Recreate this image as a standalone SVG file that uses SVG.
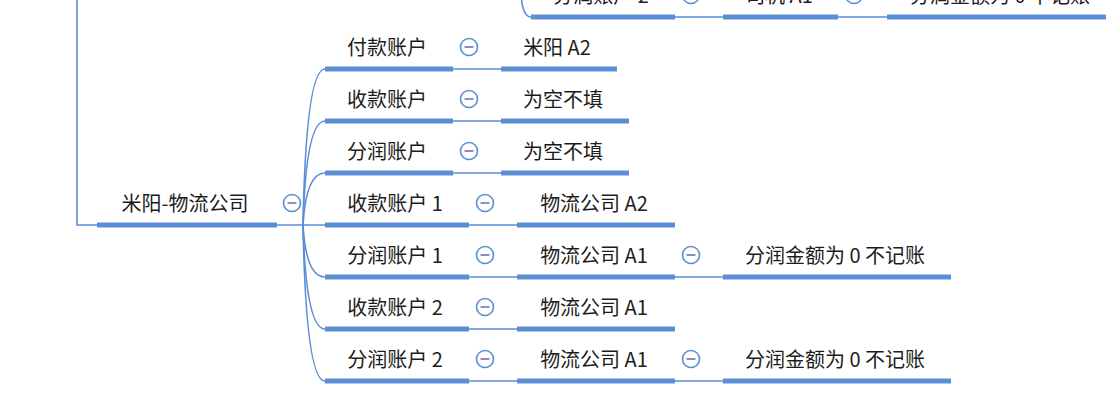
<svg xmlns="http://www.w3.org/2000/svg" width="1106" height="414" viewBox="0 0 1106 414">
<style>
.bar{stroke:#5a8fd6;stroke-width:5;fill:none}
.ln{stroke:#5a8fd6;stroke-width:1.6;fill:none}
.t{font-family:"Noto Sans CJK SC","Noto Sans",sans-serif;font-size:20px;fill:#1c1c1c;text-anchor:middle}
.cb circle{fill:#fff;stroke:#5a8fd6;stroke-width:1.6}
.cb line{stroke:#8e90c4;stroke-width:2}
</style>
<defs>
<g id="col" class="cb"><circle r="8.5"/><line x1="-4.5" y1="0" x2="4.5" y2="0"/></g>
</defs>
<rect width="1106" height="414" fill="#fff"/>
<g id="connectors">
<path class="ln" d="M77,-2 V225 H97"/>
<path class="ln" d="M277,225 H325"/>
<path class="ln" d="M303,225 Q306,69 325,69"/>
<path class="ln" d="M303,225 Q306,121 325,121"/>
<path class="ln" d="M303,225 Q306,173 325,173"/>
<path class="ln" d="M303,225 Q306,277 325,277"/>
<path class="ln" d="M303,225 Q306,329 325,329"/>
<path class="ln" d="M303,225 Q306,381 325,381"/>
<path class="ln" d="M453,69 H501 M453,121 H501 M453,173 H501"/>
<path class="ln" d="M469,225 H517 M469,277 H517 M469,329 H517 M469,381 H517"/>
<path class="ln" d="M675,277 H723 M675,381 H723"/>
<path class="ln" d="M519,-30 C521,5 523,17 531,17"/>
<path class="ln" d="M675,17 H723 M838,17 H887"/>
</g>
<g id="top-row">
<line class="bar" x1="531" y1="17" x2="675" y2="17"/><text class="t" x="601" y="3">分润账户 2</text>
<use href="#col" x="691" y="-5"/>
<line class="bar" x1="723" y1="17" x2="838" y2="17"/><text class="t" x="779" y="3">司机 A1</text>
<use href="#col" x="854" y="-5"/>
<line class="bar" x1="887" y1="17" x2="1115" y2="17"/><text class="t" x="1000" y="3">分润金额为 0 不记账</text>
</g>
<g id="root">
<line class="bar" x1="97" y1="225" x2="277" y2="225"/><text class="t" x="185" y="211">米阳-物流公司</text>
<use href="#col" x="292" y="203"/>
</g>
<g id="c1">
<line class="bar" x1="325" y1="69" x2="453" y2="69"/><text class="t" x="387" y="55">付款账户</text>
<use href="#col" x="469" y="47"/>
</g>
<g id="c1a"><line class="bar" x1="501" y1="69" x2="617" y2="69"/><text class="t" x="557" y="55">米阳 A2</text></g>
<g id="c2">
<line class="bar" x1="325" y1="121" x2="453" y2="121"/><text class="t" x="387" y="107">收款账户</text>
<use href="#col" x="469" y="99"/>
</g>
<g id="c2a"><line class="bar" x1="501" y1="121" x2="629" y2="121"/><text class="t" x="563" y="107">为空不填</text></g>
<g id="c3">
<line class="bar" x1="325" y1="173" x2="453" y2="173"/><text class="t" x="387" y="159">分润账户</text>
<use href="#col" x="469" y="151"/>
</g>
<g id="c3a"><line class="bar" x1="501" y1="173" x2="629" y2="173"/><text class="t" x="563" y="159">为空不填</text></g>
<g id="c4">
<line class="bar" x1="325" y1="225" x2="469" y2="225"/><text class="t" x="395" y="211">收款账户 1</text>
<use href="#col" x="485" y="203"/>
</g>
<g id="c4a"><line class="bar" x1="517" y1="225" x2="675" y2="225"/><text class="t" x="594" y="211">物流公司 A2</text></g>
<g id="c5">
<line class="bar" x1="325" y1="277" x2="469" y2="277"/><text class="t" x="395" y="263">分润账户 1</text>
<use href="#col" x="485" y="255"/>
</g>
<g id="c5a">
<line class="bar" x1="517" y1="277" x2="675" y2="277"/><text class="t" x="594" y="263">物流公司 A1</text>
<use href="#col" x="691" y="255"/>
</g>
<g id="c5b"><line class="bar" x1="723" y1="277" x2="951" y2="277"/><text class="t" x="835" y="263">分润金额为 0 不记账</text></g>
<g id="c6">
<line class="bar" x1="325" y1="329" x2="469" y2="329"/><text class="t" x="395" y="315">收款账户 2</text>
<use href="#col" x="485" y="307"/>
</g>
<g id="c6a"><line class="bar" x1="517" y1="329" x2="675" y2="329"/><text class="t" x="594" y="315">物流公司 A1</text></g>
<g id="c7">
<line class="bar" x1="325" y1="381" x2="469" y2="381"/><text class="t" x="395" y="367">分润账户 2</text>
<use href="#col" x="485" y="359"/>
</g>
<g id="c7a">
<line class="bar" x1="517" y1="381" x2="675" y2="381"/><text class="t" x="594" y="367">物流公司 A1</text>
<use href="#col" x="691" y="359"/>
</g>
<g id="c7b"><line class="bar" x1="723" y1="381" x2="951" y2="381"/><text class="t" x="835" y="367">分润金额为 0 不记账</text></g>
</svg>
